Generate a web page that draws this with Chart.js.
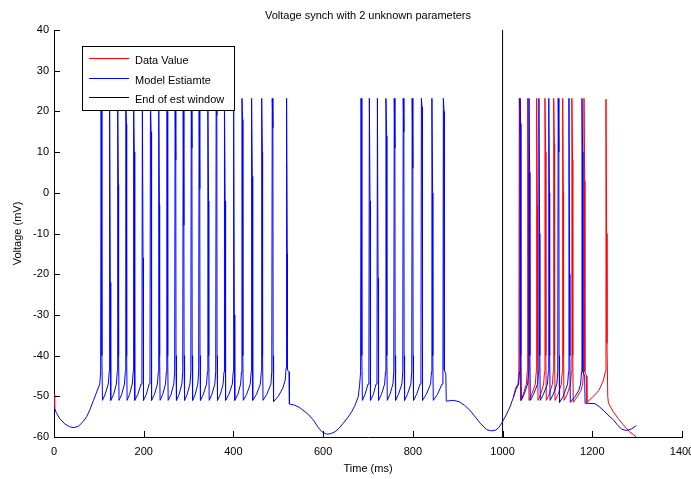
<!DOCTYPE html>
<html><head><meta charset="utf-8">
<script src="https://cdn.jsdelivr.net/npm/chart.js@4.4.1/dist/chart.umd.min.js"></script>
<style>html,body{margin:0;padding:0;background:#fff}#wrap{width:691px;height:479px}</style>
</head><body><div id="wrap"><canvas id="c" width="691" height="479"></canvas></div>
<script>
const chartTitle = 'Voltage synch with 2 unknown parameters';
const xLabel = 'Time (ms)';
const yLabel = 'Voltage (mV)';
const seriesNames = ['Data Value', 'Model Estiamte', 'End of est window'];
const xTicks = [0, 200, 400, 600, 800, 1000, 1200, 1400];
const yTicks = [-60, -50, -40, -30, -20, -10, 0, 10, 20, 30, 40];
const estWindowEnd = [[1000, -60], [1000, 40]];

// onset of trace (data and model differ only at the first samples)
const dataOnset = [[0,-49.5],[1.5,-52.8]];
const modelOnset = [[0,-52.5]];
const sharedPreBurst1 = [[5,-54],[13,-55.5],[24,-56.8],[35,-57.5],[45,-57.7],[55,-57.3],[65,-56.2],[73,-55],[80,-53.3],[88,-51],[95,-49]];

// burst 1 (data and model overlap)
const sharedBurst1 = [
[102,-47],[104,-44],[105,23.2],[106.5,-5],[107,-40],[108,-51],[114,-49.5],
[121,-47],[123,-44],[124,23.2],[125.5,-22],[126,-40],[127,-51],[133,-49.5],
[139,-47],[141,-44],[142,23.2],[143.5,2],[144,-40],[145,-51],[151,-49.5],
[157,-47],[159,-44],[160,23.2],[161.5,17],[162,-40],[163,-51],[168.5,-49.5],
[174.5,-47],[176.5,-44],[177.5,23.2],[179,10],[179.5,-40],[180.5,-51],[187,-49.5],
[194,-47],[196,-44],[197,23.2],[198.5,-16],[199,-40],[200,-51],[206,-49.5],
[212,-47],[214,-44],[215,23.2],[216.5,15],[217,-40],[218,-51],[224,-49.5],
[230.5,-47],[232.5,-44],[233.5,23.2],[235,-3],[235.5,-40],[236.5,-51],[242.5,-49.5],
[248.5,-47],[250.5,-44],[251.5,23.2],[253,20],[253.5,-40],[254.5,-51],[261,-49.5],
[267,-47],[269,-44],[270,23.2],[271.5,8],[272,-40],[273,-51],[279,-49.5],
[285,-47],[287,-44],[288,23.2],[289.5,-8],[290,-40],[291,-51],[297,-49.5],
[303,-47],[305,-44],[306,23.2],[307.5,11],[308,-40],[309,-51],[315,-49.5],
[320.5,-47],[322.5,-44],[323.5,23.2],[325,1],[325.5,-40],[326.5,-51],[333,-49.5],
[340,-47],[342,-44],[343,23.2],[344.5,-2],[345,-40],[346,-51],[352,-49.5],
[358.5,-47],[360.5,-44],[361.5,23.2],[363,19],[363.5,-40],[364.5,-51],[371,-49.5],
[377,-47],[379,-44],[380,23.2],[381.5,-2],[382,-40],[383,-51],[390,-49.5],
[397.5,-47],[399.5,-44],[400.5,23.2],[402,-30],[402.5,-40],[403.5,-51],[410,-49.5],
[416,-47],[418,-44],[419,23.2],[420.5,18],[421,-40],[422,-51],[429.5,-49.5],
[437.5,-47],[439.5,-44],[440.5,23.2],[442,4],[442.5,-40],[443.5,-51],[451.5,-49.5],
[460,-47],[462,-44],[463,23.2],[464.5,10],[465,-40],[466,-51],[474.5,-49.5],
[483.5,-47],[485.5,-44],[486.5,23.2],[488,16],[488.5,-40],[489.5,-51.3],[500,-50],[510,-48],
[515.5,-46],[517.5,-43],[518.5,23.2],[520,-15],[520.5,-43.5],[524,-44],[524.8,-51.9],
[537,-52.2],[548,-52.8],[559.5,-53.8],[568,-54.6],[578,-55.8],[588,-57.5],[597,-58.7],
[608,-59.3],[617,-59.2],[626.4,-58.7],[636,-57.8],[645,-56.6],[655,-55.2],[663.6,-53.8],
[671,-52.2],[678.3,-50.1]
];

// burst 2 (data and model overlap)
const sharedBurst2 = [
[681.5,-47],[683.5,-44],[684.5,23.2],[686,-3],[686.5,-40],[687.5,-51],[693.5,-49.5],
[700,-47],[702,-44],[703,23.2],[704.5,-2],[705,-40],[706,-51],[712,-49.5],
[718,-47],[720,-44],[721,23.2],[722.5,-21],[723,-40],[724,-51],[730,-49.5],
[737,-47],[739,-44],[740,23.2],[741.5,14],[742,-40],[743,-51],[749,-49.5],
[755.5,-47],[757.5,-44],[758.5,23.2],[760,11],[760.5,-40],[761.5,-51],[768,-49.5],
[775.5,-47],[777.5,-44],[778.5,23.2],[780,15],[780.5,-40],[781.5,-51],[788,-49.5],
[795.5,-47],[797.5,-44],[798.5,23.2],[800,6],[800.5,-40],[801.5,-51],[808.5,-49.5],
[816,-47],[818,-44],[819,23.2],[820.5,21],[821,-40],[822,-51],[830,-49.5],
[839.5,-47],[841.5,-44],[842.5,23.2],[844,0],[844.5,-40],[845.5,-51],[855,-49.5],
[865,-47],[867,-44],[868,23.2],[869.5,20],[870,-43.5],[873.5,-44.5],[874.5,-51.2],
[890,-51],[903,-51.3],[915,-52.2],[927,-53.4],[940,-55.2],[950,-56.6],[964.5,-58.2],
[975,-58.5],[985,-58.3],[992,-57.6],[998,-56.6],[1008,-54.6],[1016.5,-52.6],[1024,-50.3]
];

// burst 3: model estimate
const modelBurst3 = [
[1030,-48.3],
[1035.8,-47],[1037.8,-44],[1038.8,23.2],[1040.3,17],[1040.8,-40],[1041.8,-51],[1048,-49.5],
[1055.9,-47],[1057.9,-44],[1058.9,23.2],[1060.4,5],[1060.9,-40],[1061.9,-51],[1069,-49.5],
[1078,-47],[1080,-44],[1081,23.2],[1082.5,-10],[1083,-40],[1084,-51],[1091,-49.5],
[1100,-47],[1102,-44],[1103,23.2],[1104.5,0],[1105,-40],[1106,-51],[1113,-49.5],
[1121,-47],[1123,-44],[1124,23.2],[1125.5,10],[1126,-40],[1127,-51.5],[1135,-50],
[1145,-47],[1147,-44],[1148,23.2],[1149.5,-20],[1150,-40],[1151,-51.5],[1162,-50],[1170,-48.5],
[1174,-47],[1176,-44],[1177,23.2],[1178.5,10],[1179,-44],[1183,-45],[1184,-51.7],
[1206,-51.8],[1215,-52.5],[1224.5,-53.4],[1235,-54.6],[1247,-55.8],[1256,-57],
[1265.5,-58.1],[1276.6,-58.4],[1287.8,-58],[1298,-57.2]
];

// burst 3: recorded data
const dataBurst3 = [
[1029,-48],
[1034.3,-47],[1036.3,-44],[1037.3,23.2],[1038.8,15],[1039.3,-40],[1040.3,-51],[1046,-49.5],
[1053,-47],[1055,-44],[1056,23.2],[1057.5,5],[1058,-40],[1059,-51],[1065,-49.5],
[1073,-47],[1075,-44],[1076,23.2],[1077.5,-3],[1078,-40],[1079,-51],[1085,-49.5],
[1091.5,-47],[1093.5,-44],[1094.5,23.2],[1096,10],[1096.5,-40],[1097.5,-51],[1104,-49.5],
[1111,-47],[1113,-44],[1114,23.2],[1115.5,12],[1116,-40],[1117,-51],[1124,-49.5],
[1131,-47],[1133,-44],[1134,23.2],[1135.5,0],[1136,-40],[1137,-51],[1144,-49.5],
[1151.5,-47],[1153.5,-44],[1154.5,23.2],[1156,8],[1156.5,-40],[1157.5,-51.5],[1167,-50],[1175,-48.5],
[1178.5,-47],[1180.5,-44],[1181.5,23.2],[1183,3],[1183.5,-44],[1187,-45],[1188,-51.5],
[1200,-50.3],[1215,-48.5],[1225,-46],[1229,-44],[1230.5,23],[1232,-10],[1232.8,-37],
[1234.5,-50],[1236,-51.7],[1247,-53.8],[1258,-55.5],[1269,-57],[1282,-58.6],[1298,-60]
];

const toXY = arr => arr.map(p => ({x: p[0], y: p[1]}));
const dataSeries = toXY([].concat(dataOnset, sharedPreBurst1, sharedBurst1, sharedBurst2, dataBurst3));
const modelSeries = toXY([].concat(modelOnset, sharedPreBurst1, sharedBurst1, sharedBurst2, modelBurst3));
const colors = ['#ff0000', '#0000ff', '#000000'];
const FONT = 'Liberation Sans, Arial, Helvetica, sans-serif';

const decorPlugin = {
  id: 'decor',
  afterDraw(chart) {
    const ctx = chart.ctx;
    const xs = chart.scales.x, ys = chart.scales.y;
    const ca = chart.chartArea;
    ctx.save();
    ctx.strokeStyle = '#000';
    ctx.lineWidth = 1;
    ctx.beginPath();
    xTicks.forEach(v => {
      const px = Math.round(xs.getPixelForValue(v)) + 0.5;
      ctx.moveTo(px, ca.bottom);
      ctx.lineTo(px, ca.bottom - 6);
    });
    yTicks.forEach(v => {
      const py = Math.round(ys.getPixelForValue(v)) + 0.5;
      ctx.moveTo(ca.left, py);
      ctx.lineTo(ca.left + 6, py);
    });
    ctx.stroke();
    ctx.fillStyle = '#000';
    ctx.font = '11px ' + FONT;
    ctx.textAlign = 'center';
    ctx.textBaseline = 'middle';
    ctx.fillText(chartTitle, (ca.left + ca.right) / 2, 16);
    ctx.fillText(xLabel, (ca.left + ca.right) / 2, 469);
    ctx.save();
    ctx.translate(18, (ca.top + ca.bottom) / 2);
    ctx.rotate(-Math.PI / 2);
    ctx.fillText(yLabel, 0, 0);
    ctx.restore();
    const bx = 82.5, by = 46.5, bw = 152, bh = 64;
    ctx.fillStyle = '#fff';
    ctx.fillRect(bx, by, bw, bh);
    ctx.strokeStyle = '#000';
    ctx.strokeRect(bx, by, bw, bh);
    const rows = [58.5, 78.5, 97.5];
    const textRows = [60.5, 80.5, 100];
    seriesNames.forEach((name, i) => {
      ctx.strokeStyle = colors[i];
      ctx.beginPath();
      ctx.moveTo(89, rows[i]);
      ctx.lineTo(129, rows[i]);
      ctx.stroke();
      ctx.fillStyle = '#000';
      ctx.textAlign = 'left';
      ctx.fillText(name, 135, textRows[i]);
    });
    ctx.restore();
  }
};

// where the recorded data lies exactly under the model trace it is fully covered
const coveredByModel = c => c.p0.parsed.x >= 1.5 && c.p1.parsed.x <= 1024;

new Chart(document.getElementById('c'), {
  type: 'line',
  data: {
    datasets: [
      {label: seriesNames[0], data: dataSeries, borderColor: colors[0], borderWidth: 1, pointRadius: 0, tension: 0, fill: false, order: 3,
       segment: {borderColor: c => coveredByModel(c) ? 'rgba(0,0,0,0)' : colors[0]}},
      {label: seriesNames[1], data: modelSeries, borderColor: colors[1], borderWidth: 1, pointRadius: 0, tension: 0, fill: false, order: 2},
      {label: seriesNames[2], data: toXY(estWindowEnd), borderColor: colors[2], borderWidth: 1, pointRadius: 0, tension: 0, fill: false, order: 1}
    ]
  },
  options: {
    responsive: false,
    animation: false,
    layout: {padding: {left: 0, top: 30, right: 9, bottom: 0}},
    plugins: {legend: {display: false}, title: {display: false}, tooltip: {enabled: false}},
    scales: {
      x: {
        type: 'linear', min: 0, max: 1400,
        afterBuildTicks: s => { s.ticks = xTicks.map(v => ({value: v})); },
        afterFit: s => { s.height = 42; s.paddingLeft = 0; s.paddingRight = 0; },
        grid: {display: false, drawTicks: false},
        border: {display: true, color: '#000', width: 1},
        ticks: {color: '#000', font: {family: FONT, size: 11}, padding: 8, maxRotation: 0, autoSkip: false, callback: v => String(v)}
      },
      y: {
        type: 'linear', min: -60, max: 40,
        afterBuildTicks: s => { s.ticks = yTicks.map(v => ({value: v})); },
        afterFit: s => { s.width = 54; s.paddingTop = 0; s.paddingBottom = 0; },
        grid: {display: false, drawTicks: false},
        border: {display: true, color: '#000', width: 1},
        ticks: {color: '#000', font: {family: FONT, size: 11}, padding: 5, autoSkip: false, callback: v => String(v)}
      }
    }
  },
  plugins: [decorPlugin]
});
</script>
</body></html>
